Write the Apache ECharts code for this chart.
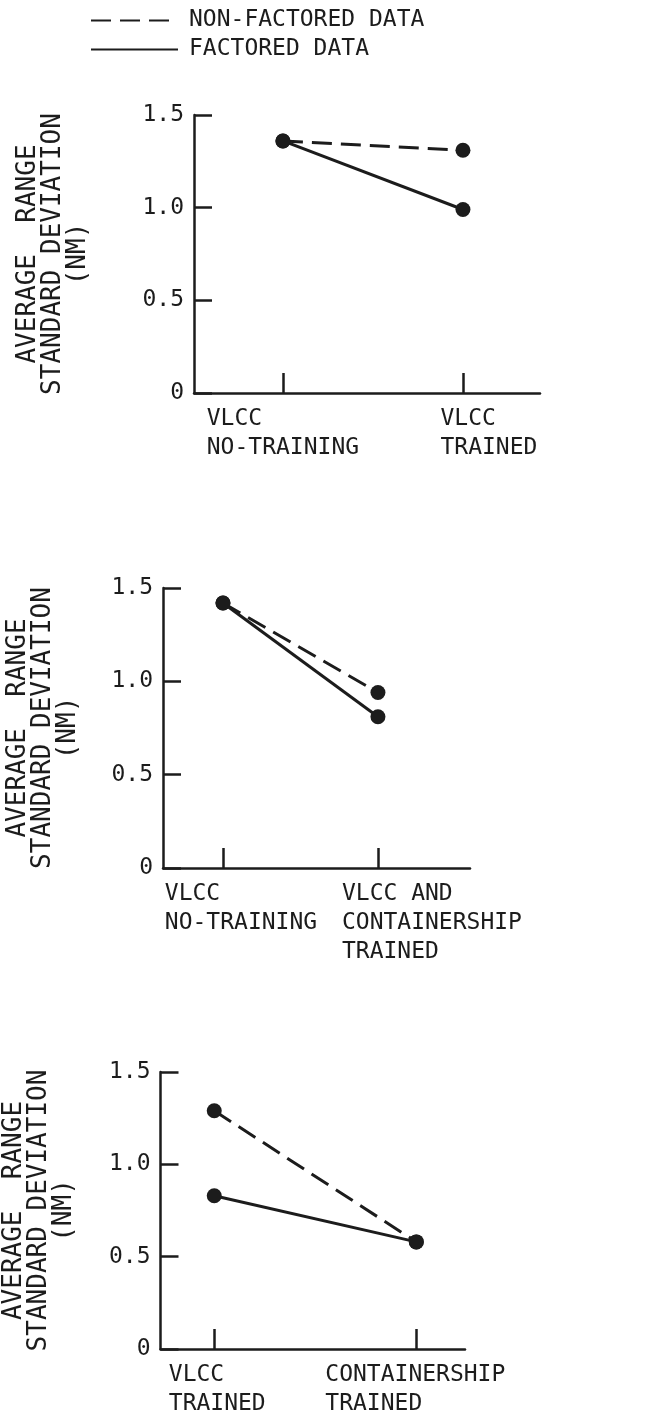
<!DOCTYPE html>
<html>
<head>
<meta charset="utf-8">
<script src="https://cdn.jsdelivr.net/npm/echarts@6/dist/echarts.min.js"></script>
<style>
  html, body { margin: 0; padding: 0; background: #fff; }
  #main { width: 664px; height: 1421px; }
</style>
</head>
<body>
<div id="main"></div>
<script>
// series names (legend)
const seriesNames = ['NON-FACTORED DATA', 'FACTORED DATA'];

// x categories of each panel
const cats1 = ['VLCC\nNO-TRAINING', 'VLCC\nTRAINED'];
const cats2 = ['VLCC\nNO-TRAINING', 'VLCC AND\nCONTAINERSHIP\nTRAINED'];
const cats3 = ['VLCC\nTRAINED', 'CONTAINERSHIP\nTRAINED'];

// values
const nonFactored1 = [1.36, 1.31];
const factored1 = [1.36, 0.99];
const nonFactored2 = [1.42, 0.94];
const factored2 = [1.42, 0.81];
const nonFactored3 = [1.29, 0.58];
const factored3 = [0.83, 0.58];

// y axis ticks
const yTicks = [0, 0.5, 1.0, 1.5];
const yTitle = 'AVERAGE  RANGE\nSTANDARD DEVIATION\n(NM)';

const panels = [
    { cats: cats1, vals: [nonFactored1, factored1] },
    { cats: cats2, vals: [nonFactored2, factored2] },
    { cats: cats3, vals: [nonFactored3, factored3] }
];

// layout, pixels
const layout = [
    { left: 194, width: 346, top: 115, height: 278, xmin: -0.494, xmax: 1.428, shift: [0, 26], gap: 103 },
    { left: 163, width: 307, top: 588, height: 280, xmin: -0.387, xmax: 1.594, shift: [18, 54], gap: 82 },
    { left: 159, width: 306, top: 1072, height: 277, xmin: -0.266, xmax: 1.241, shift: [3, -1], gap: 84 }
];

const FONT = 'DejaVu Sans Mono';
const INK = '#1c1c1c';

const chart = echarts.init(document.getElementById('main'));

const grids = [], xAxes = [], yAxes = [], series = [];

panels.forEach((p, i) => {
    const L = layout[i];
    grids.push({ left: L.left, width: L.width, top: L.top, height: L.height });

    // one x axis per category label, so the two labels never hide each other
    p.cats.forEach((c, k) => {
        const s = L.shift[k];
        const lines = c.split('\n');
        const n = Math.max(...lines.map(t => t.length));
        xAxes.push({
            type: 'value',
            gridIndex: i,
            position: 'bottom',
            min: L.xmin,
            max: L.xmax,
            splitLine: { show: false },
            axisLine: { show: k === 0, lineStyle: { color: INK, width: 2.5 } },
            axisTick: {
                show: k === 0, inside: true, length: 20,
                customValues: [0, 1],
                lineStyle: { color: INK, width: 2.5 }
            },
            axisLabel: {
                show: true,
                customValues: [k],
                showMinLabel: true,
                showMaxLabel: true,
                margin: 12,
                align: 'center',
                verticalAlign: 'top',
                formatter: () => lines.map(t => '{c|' + t.padEnd(n, ' ') + '}').join('\n'),
                rich: {
                    c: {
                        fontFamily: FONT, fontSize: 23, color: INK, lineHeight: 29,
                        padding: s >= 0 ? [0, 0, 0, 2 * s] : [0, -2 * s, 0, 0]
                    }
                }
            }
        });
    });

    yAxes.push({
        type: 'value',
        gridIndex: i,
        min: yTicks[0],
        max: yTicks[yTicks.length - 1],
        interval: 0.5,
        splitLine: { show: false },
        axisLine: { show: true, onZero: false, lineStyle: { color: INK, width: 2.5 } },
        axisTick: { show: true, inside: true, length: 18, lineStyle: { color: INK, width: 2.5 } },
        axisLabel: {
            margin: 10,
            fontFamily: FONT, fontSize: 23, color: INK,
            formatter: v => v === 0 ? '0' : v.toFixed(1)
        },
        name: yTitle,
        nameLocation: 'middle',
        nameRotate: 90,
        nameGap: L.gap,
        nameTextStyle: { fontFamily: FONT, fontSize: 26, color: INK, lineHeight: 25, align: 'center' }
    });

    p.vals.forEach((vals, s) => {
        series.push({
            name: seriesNames[s],
            type: 'line',
            xAxisIndex: 2 * i,
            yAxisIndex: i,
            data: vals.map((v, k) => [k, v]),
            symbol: 'circle',
            symbolSize: 15,
            z: s === 0 ? 2 : 3,
            itemStyle: { color: INK },
            lineStyle: { color: INK, width: 3, type: s === 0 ? [20, 9] : 'solid' },
            animation: false
        });
    });
});

chart.setOption({
    backgroundColor: '#fff',
    legend: {
        orient: 'vertical',
        left: 85,
        top: 4,
        itemWidth: 87,
        itemHeight: 14,
        itemGap: 6,
        data: seriesNames,
        itemStyle: { opacity: 0 },
        textStyle: { fontFamily: FONT, fontSize: 23, color: INK, padding: [0, 0, 0, 6] }
    },
    grid: grids,
    xAxis: xAxes,
    yAxis: yAxes,
    series: series
});

window.addEventListener('resize', function () {
    chart.resize();
});
</script>
</body>
</html>
